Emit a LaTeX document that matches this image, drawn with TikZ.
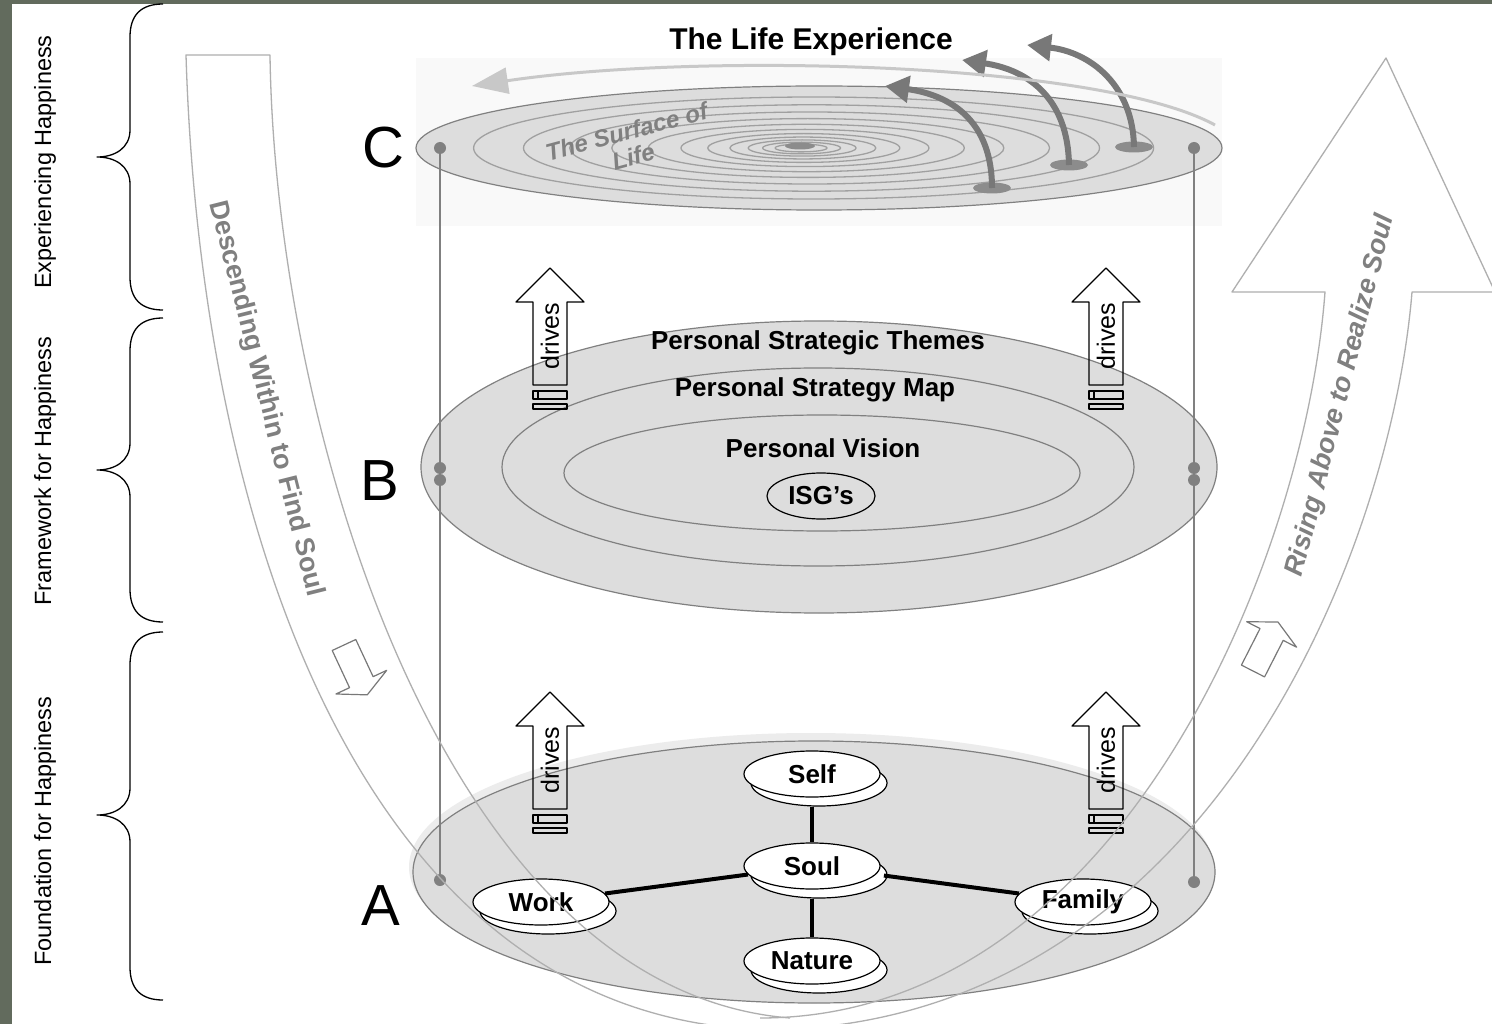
\documentclass[tikz,border=0pt]{standalone}
\usepackage{fontspec}
\setmainfont{Liberation Sans}
\usetikzlibrary{arrows.meta,shapes.geometric,shadows}

\definecolor{framegray}{RGB}{98,107,93}
\definecolor{planefill}{RGB}{221,221,221}
\definecolor{planeline}{RGB}{128,128,128}
\definecolor{ringgray}{RGB}{160,160,160}
\definecolor{bandgray}{RGB}{175,175,175}
\definecolor{textgray}{RGB}{128,128,128}
\definecolor{liftgray}{RGB}{120,120,120}
\definecolor{skimgray}{RGB}{200,200,200}

\newcommand{\descfont}{\fontsize{27}{27}\selectfont\bfseries}
\newcommand{\risefont}{\fontsize{27}{27}\selectfont\bfseries\itshape}

\tikzset{
  curl/.style={line width=1.3pt},
  sidelbl/.style={rotate=90, inner sep=0pt, font=\fontsize{23.5}{24}\selectfont},
  plate/.style={inner sep=0pt, font=\fontsize{58}{58}\selectfont},
  plane/.style={fill=planefill, draw=planeline, line width=1.2pt},
  rim/.style={draw=planeline, line width=1.2pt},
  ring/.style={draw=ringgray, line width=1.3pt},
  blob/.style={ellipse, fill=liftgray!85, inner sep=0pt, minimum width=38pt, minimum height=11pt},
  peg/.style={ellipse, fill=planeline, inner sep=0pt, minimum width=12pt, minimum height=12pt},
  postline/.style={draw=planeline, line width=1.5pt},
  lift/.style={draw=liftgray, line width=6pt, -{Triangle[length=24pt, width=26pt]}},
  skim/.style={draw=skimgray, line width=3pt, -{Triangle[length=36pt, width=26pt]}},
  surf/.style={rotate=15, align=center, text=textgray, inner sep=0pt, font=\fontsize{24}{26}\selectfont\bfseries\itshape},
  headline/.style={inner sep=0pt, font=\fontsize{30}{30}\selectfont\bfseries},
  lbl/.style={inner sep=0pt, font=\fontsize{26}{26}\selectfont\bfseries},
  isg/.style={ellipse, draw=black, line width=1.2pt, inner sep=0pt, minimum width=108pt, minimum height=46pt, lbl},
  keynode/.style={ellipse, draw=black, fill=white, line width=1.2pt, inner sep=0pt,
    minimum width=136pt, minimum height=46pt, copy shadow={shadow xshift=7pt, shadow yshift=-9pt}, lbl},
  link/.style={line width=4pt},
  drivebox/.style={draw=black, line width=1.2pt},
  drivetxt/.style={rotate=90, inner sep=0pt, font=\fontsize{25}{25}\selectfont},
  band/.style={draw=bandgray, line width=1.3pt},
  hollow/.style={draw=liftgray, line width=1.2pt, fill=white},
  desc/.style={rotate=-75.9, inner sep=0pt, text=textgray, font=\descfont},
  rise/.style={rotate=75.7, inner sep=0pt, text=textgray, font=\risefont}
}

\begin{document}
\begin{tikzpicture}[x=1pt, y=-1pt, line join=round]
  \useasboundingbox (0,0) rectangle (1492,1024);
  \fill[framegray] (0,0) rectangle (1492,1024);
  \fill[white] (12,4) rectangle (1492,1024);

  % braces on the left
  \foreach \ya/\ym/\yb/\yl/\txt [count=\i] in {4/157/310/162/Experiencing Happiness, 318/470/622/471/Framework for Happiness, 632/815/1000/831/Foundation for Happiness}{
    \draw[curl] (163,\ya) .. controls (141,\ya) and (130,\ya+11) .. (130,\ya+33)
      -- (130,\ym-27) .. controls (130,\ym-9) and (115,\ym) .. (97,\ym)
      .. controls (115,\ym) and (130,\ym+9) .. (130,\ym+27)
      -- (130,\yb-33) .. controls (130,\yb-11) and (141,\yb) .. (163,\yb);
    \node[sidelbl] (side\i) at (45,\yl) {\txt};
  }

  % plane C
  \fill[gray!5] (416,58) rectangle (1222,226);
  \draw[plane] (819,148) ellipse [x radius=403, y radius=62];
  \foreach \r in {340,288,240,196,158,124,96,73,54,39,26}
    \draw[ring] (800+0.04*\r,148) ellipse [x radius=\r, y radius=0.15*\r];
  \node[blob, minimum width=30pt, minimum height=7pt] (eye) at (800,146) {};
  \node[surf] (surface) at (630,144) {The Surface of\\Life};
  \node[blob] (blob1) at (992,188) {};
  \node[blob] (blob2) at (1069,165) {};
  \node[blob] (blob3) at (1134,147) {};
  \coordinate (tip1) at (885,86);
  \coordinate (tip2) at (962,60);
  \coordinate (tip3) at (1027,45);
  \draw[lift] (blob1.center) .. controls (992,120) and (950,95) .. (tip1);
  \draw[lift] (blob2.center) .. controls (1068,100) and (1030,70) .. (tip2);
  \draw[lift] (blob3.center) .. controls (1133,85) and (1090,52) .. (tip3);
  \coordinate (skimstart) at (1215,125);
  \coordinate (skimend) at (472,86);
  \draw[skim] (skimstart) .. controls (1100,62) and (700,52) .. (skimend);
  \node[headline] (lifeexp) at (811,42) {The Life Experience};

  % plane B
  \draw[plane] (819,467) ellipse [x radius=398, y radius=146];
  \draw[rim] (818,467) ellipse [x radius=316, y radius=99];
  \draw[rim] (822,473) ellipse [x radius=258, y radius=58];
  \node[lbl] (themes) at (818,343) {Personal Strategic Themes};
  \node[lbl] (map) at (815,390) {Personal Strategy Map};
  \node[lbl] (vision) at (823,448) {Personal Vision};
  \node[isg] (isgs) at (821,496) {ISG’s};

  % plane A
  \fill[gray!15] (811,867) ellipse [x radius=402, y radius=134];
  \draw[plane] (814,872) ellipse [x radius=401, y radius=131];
  \node[keynode] (soul) at (812,866) {Soul};
  \node[keynode] (self) at (812,774) {Self};
  \node[keynode] (work) at (541,902) {Work};
  \node[keynode] (family) at (1083,902) {Family};
  \node[keynode] (nature) at (812,961) {Nature};
  \draw[link, shorten <=9pt] (self) -- (soul);
  \draw[link, shorten <=9pt] (soul) -- (nature);
  \draw[link] (soul) -- (work);
  \draw[link, shorten <=8pt] (soul) -- (family);

  \node[plate] (platec) at (383,148) {C};
  \node[plate] (plateb) at (380,481) {B};
  \node[plate] (platea) at (381,906) {A};

  % posts through the planes
  \foreach \nm/\px/\py in {cl/440/148, cr/1194/148, bla/440/468, blb/440/480, bra/1194/468, brb/1194/480, al/440/880, ar/1194/882}
    \node[peg] (peg\nm) at (\px,\py) {};
  \draw[postline] (pegcl) -- (pegal);
  \draw[postline] (pegcr) -- (pegar);

  % drives arrows
  \foreach \px/\py [count=\k] in {550/268, 1106/268, 550/692, 1106/692}{
    \draw[drivebox] (\px,\py) -- ++(34,34) -- ++(-17,0) -- ++(0,83) -- ++(-34,0) -- ++(0,-83) -- ++(-17,0) -- cycle;
    \draw[drivebox] (\px-17,\py+123) rectangle ++(34,8);
    \draw[drivebox] (\px-12,\py+123) -- ++(0,8);
    \draw[drivebox] (\px-17,\py+136) rectangle ++(34,5);
    \node[drivetxt] (drives\k) at (\px,\py+68) {drives};
  }

  % descending band
  \draw[band] (780,1030) .. controls (360,1030) and (200,520) .. (186,55) -- (270,55)
    .. controls (275,420) and (440,990) .. (790,1018);
  \draw[hollow, shift={(344,645)}, rotate=-65] (0,-13) -- (41,-13) -- (41,-28) -- (55,0) -- (41,28) -- (41,13) -- (0,13) -- cycle;
  \node[desc] (descend) at (266,399) {Descending Within to Find Soul};

  % rising band
  \draw[band] (760,1030) .. controls (1200,1030) and (1390,560) .. (1412,292) -- (1495,292) -- (1386,58)
    -- (1232,292) -- (1325,292) .. controls (1305,560) and (1120,1018) .. (760,1018);
  \draw[hollow, shift={(1253,671)}, rotate=63] (0,-13) -- (41,-13) -- (41,-28) -- (55,0) -- (41,28) -- (41,13) -- (0,13) -- cycle;
  \node[rise] (rising) at (1341,396) {Rising Above to Realize Soul};
\end{tikzpicture}
\end{document}
